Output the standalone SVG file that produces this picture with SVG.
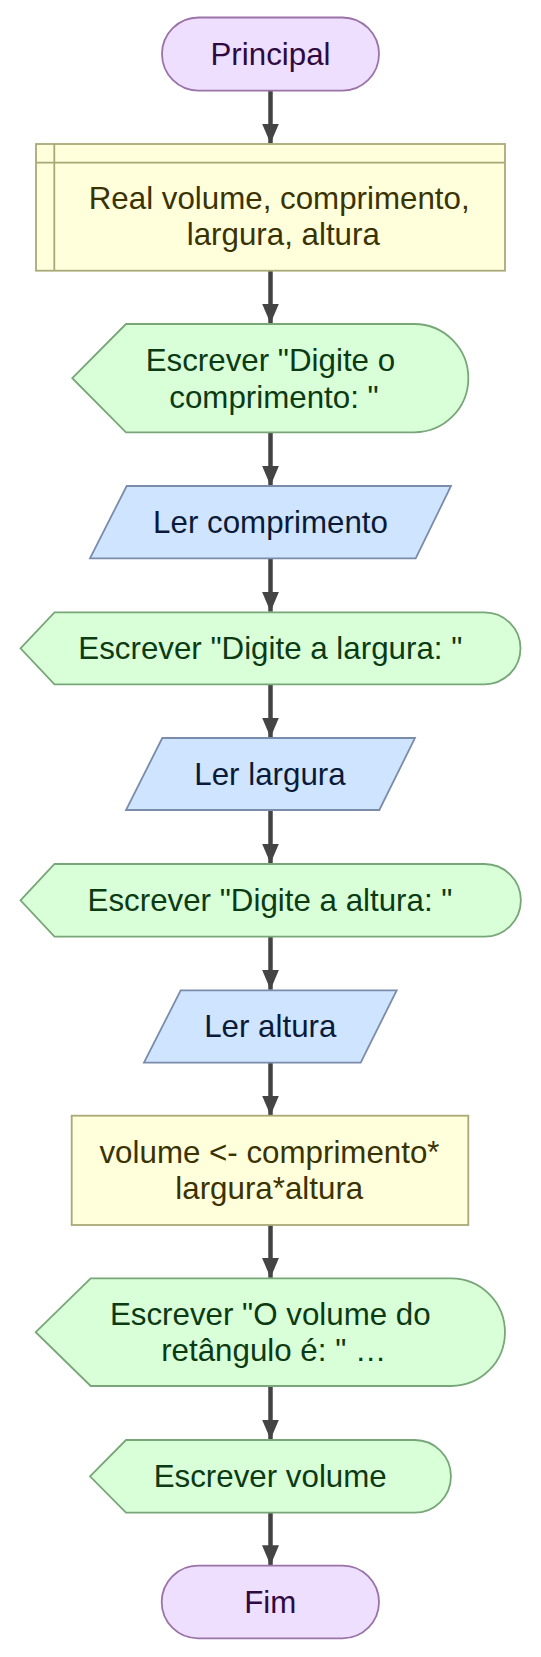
<svg xmlns="http://www.w3.org/2000/svg" width="541" height="1657" viewBox="0 0 541 1657">
<style>
text{font-family:"Liberation Sans",Arial,sans-serif;font-size:31.3px;text-anchor:middle}
.term{fill:#eedfff;stroke:#9a73a8;stroke-width:1.8}
.term-t{fill:#2e0a40}
.proc{fill:#ffffdc;stroke:#a9a978;stroke-width:1.8}
.proc-t{fill:#3a3300}
.disp{fill:#d8ffd8;stroke:#78a678;stroke-width:1.8}
.disp-t{fill:#0c3a12}
.inp{fill:#cfe5ff;stroke:#7a8caa;stroke-width:1.8}
.inp-t{fill:#0a1a38}
.edge{stroke:#444;stroke-width:4.5;fill:none}
</style>
<defs>
<marker id="ah" viewBox="0 0 20 17" refX="20" refY="8.5" markerWidth="20" markerHeight="17" markerUnits="userSpaceOnUse" orient="auto">
<path d="M0,0 L20,8.5 L0,17 Z" fill="#444"/>
</marker>
</defs>
<g id="connectors">
<line class="edge" x1="270.5" y1="91" x2="270.5" y2="143.5" marker-end="url(#ah)"/>
<line class="edge" x1="270.5" y1="271" x2="270.5" y2="323.5" marker-end="url(#ah)"/>
<line class="edge" x1="270.5" y1="432.5" x2="270.5" y2="485.7" marker-end="url(#ah)"/>
<line class="edge" x1="270.5" y1="558.5" x2="270.5" y2="611.7" marker-end="url(#ah)"/>
<line class="edge" x1="270.5" y1="684.5" x2="270.5" y2="737.5" marker-end="url(#ah)"/>
<line class="edge" x1="270.5" y1="810" x2="270.5" y2="863.5" marker-end="url(#ah)"/>
<line class="edge" x1="270.5" y1="937" x2="270.5" y2="989.7" marker-end="url(#ah)"/>
<line class="edge" x1="270.5" y1="1063" x2="270.5" y2="1115.5" marker-end="url(#ah)"/>
<line class="edge" x1="270.5" y1="1225" x2="270.5" y2="1277.8" marker-end="url(#ah)"/>
<line class="edge" x1="270.5" y1="1386" x2="270.5" y2="1439.5" marker-end="url(#ah)"/>
<line class="edge" x1="270.5" y1="1513" x2="270.5" y2="1565.3" marker-end="url(#ah)"/>
</g>
<g id="principal">
<rect class="term" x="162" y="17.5" width="217" height="73.2" rx="36.6"/>
<text class="term-t" x="270.5" y="65">Principal</text>
</g>
<g id="declaracao">
<rect class="proc" x="36" y="144" width="469" height="126.7"/>
<line class="proc" x1="36" y1="162.7" x2="505" y2="162.7"/>
<line class="proc" x1="54.3" y1="144" x2="54.3" y2="270.7"/>
<text class="proc-t" x="279.2" y="208.5">Real volume, comprimento,</text>
<text class="proc-t" x="283.3" y="245.2">largura, altura</text>
</g>
<g id="escrever1">
<path class="disp" d="M72.3,378.2 L126,324 L414.2,324 A54.15,54.15 0 0 1 414.2,432.3 L126,432.3 Z"/>
<text class="disp-t" x="270.4" y="371">Escrever "Digite o</text>
<text class="disp-t" x="274" y="407.5">comprimento: "</text>
</g>
<g id="ler1">
<path class="inp" d="M126.7,486 L451,486 L415.7,558.3 L90,558.3 Z"/>
<text class="inp-t" x="270.5" y="532.7">Ler comprimento</text>
</g>
<g id="escrever2">
<path class="disp" d="M20.5,648.3 L54.5,612.3 L484.5,612.3 A36,36 0 0 1 484.5,684.3 L54.5,684.3 Z"/>
<text class="disp-t" x="270.3" y="658.5">Escrever "Digite a largura: "</text>
</g>
<g id="ler2">
<path class="inp" d="M162.3,738 L415,738 L379.3,810 L126,810 Z"/>
<text class="inp-t" x="270" y="784.5">Ler largura</text>
</g>
<g id="escrever3">
<path class="disp" d="M20.5,900.3 L54.5,864 L484.5,864 A36.35,36.35 0 0 1 484.5,936.7 L54.5,936.7 Z"/>
<text class="disp-t" x="270" y="910.5">Escrever "Digite a altura: "</text>
</g>
<g id="ler3">
<path class="inp" d="M180.7,990.3 L396.7,990.3 L360.7,1062.7 L144,1062.7 Z"/>
<text class="inp-t" x="270.3" y="1037">Ler altura</text>
</g>
<g id="calculo">
<rect class="proc" x="71.7" y="1115.7" width="396.6" height="109.3"/>
<text class="proc-t" x="269.5" y="1162.5">volume &lt;- comprimento*</text>
<text class="proc-t" x="269.3" y="1199">largura*altura</text>
</g>
<g id="escrever4">
<path class="disp" d="M35.7,1332.2 L90.7,1278.3 L451.1,1278.3 A53.85,53.85 0 0 1 451.1,1386 L90.7,1386 Z"/>
<text class="disp-t" x="270.3" y="1324.5">Escrever "O volume do</text>
<text class="disp-t" x="273.7" y="1361">retângulo é: " …</text>
</g>
<g id="escrever5">
<path class="disp" d="M90,1476.3 L126,1440 L414.6,1440 A36.35,36.35 0 0 1 414.6,1512.7 L126,1512.7 Z"/>
<text class="disp-t" x="270.2" y="1486.5">Escrever volume</text>
</g>
<g id="fim">
<rect class="term" x="161.7" y="1565.7" width="217.3" height="72.6" rx="36.3"/>
<text class="term-t" x="270.3" y="1612.5">Fim</text>
</g>
</svg>
